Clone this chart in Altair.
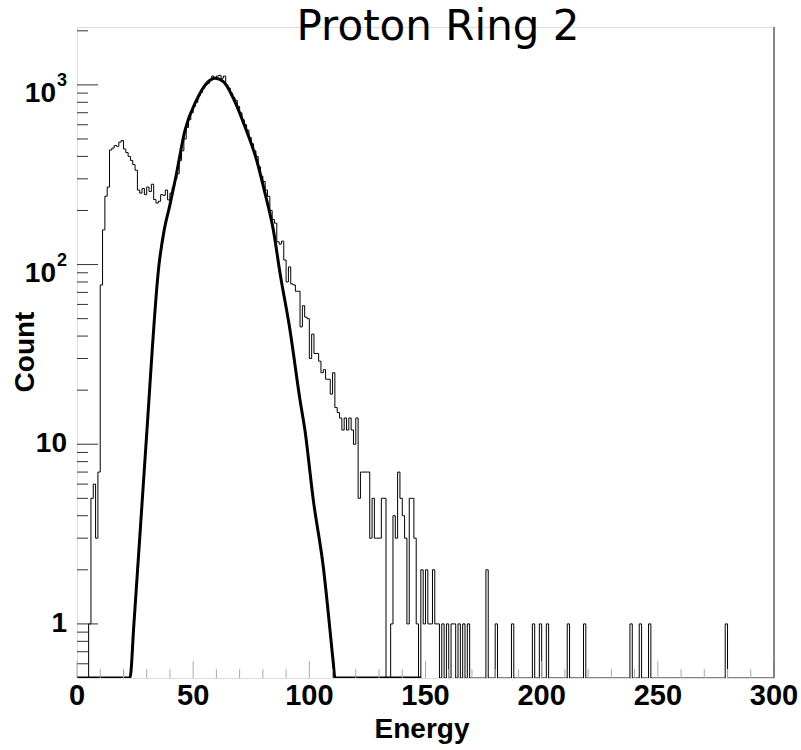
import altair as alt
import pandas as pd

# ---------------- data ----------------
# histogram counts for bins [E, E+1), E = 0 .. 155
hist_counts = [
    0, 0, 0, 0, 0, 1, 5, 6, 3, 7,                      # 0-9
    77, 156, 240, 270, 434, 445, 460, 455, 480, 490,   # 10-19
    440, 420, 400, 380, 360, 335, 260, 250, 265, 245,  # 20-29
    270, 255, 280, 230, 220, 225, 245, 243, 260, 229,  # 30-39
    250, 270, 300, 320, 380, 430, 500, 580, 640, 700,  # 40-49
    760, 800, 870, 910, 960, 1000, 1020, 1060, 1120, 1100,  # 50-59
    1120, 1130, 1090, 1120, 1000, 960, 900, 850, 820, 760,  # 60-69
    700, 640, 600, 560, 510, 470, 430, 400, 350, 310,  # 70-79
    290, 260, 240, 200, 178, 170, 134, 130, 135, 106,  # 80-89
    80, 97, 78, 77, 71, 71, 45, 59, 51, 50,            # 90-99
    30, 41, 32, 32, 29, 25, 26, 23, 23, 19,            # 100-109
    25, 16, 15, 14, 12, 14, 12, 14, 12, 10,            # 110-119
    14, 5, 7, 7, 7, 7, 3, 5, 3, 3,                     # 120-129
    3, 5, 5, 0, 0, 1, 4, 3, 7, 5,                      # 130-139
    4, 3, 1, 5, 5, 3, 1, 0, 2, 1,                      # 140-149
    2, 1, 1, 2, 1, 1,                                  # 150-155
]
# isolated entries at higher energy
sparse_energy = [157, 159, 161, 162, 164, 166, 168, 176, 180, 187,
                 196, 199, 202, 211, 218, 238, 242, 246, 279]
sparse_counts = [1, 1, 1, 1, 1, 1, 1, 2, 1, 1,
                 1, 1, 1, 1, 1, 1, 1, 1, 1]

# fitted curve (values at the floor are drawn on the frame)
fit_energy = [0, 22.8, 24.5, 29.7, 35.3, 37.5, 40.0, 42.6, 46.5, 51.5, 55.8,
              59.4, 63, 67.3, 72.3, 77.3, 80.9, 84.5, 87.4, 91.7, 96, 98.1,
              101.7, 106, 110.3, 111, 148]
fit_count = [0.5, 0.5, 1.0, 10, 100, 155, 215, 310, 561, 824, 1020,
             1088, 1042, 842, 585, 382, 250, 156, 89.5, 43, 17.6, 12.0,
             4.9, 2.08, 0.61, 0.5, 0.5]

x_major = [0, 50, 100, 150, 200, 250, 300]
x_labels = ["0", "50", "100", "150", "200", "250", "300"]
x_minor = [10, 20, 30, 40, 60, 70, 80, 90, 110, 120, 130, 140, 160, 170, 180,
           190, 210, 220, 230, 240, 260, 270, 280, 290]
y_major = [1, 10, 100, 1000]
y_minor = [0.6, 0.7, 0.8, 0.9, 2, 3, 4, 5, 6, 7, 8, 9, 20, 30, 40, 50, 60, 70,
           80, 90, 200, 300, 400, 500, 600, 700, 800, 900, 2000]
y_plain_vals = [1, 10]
y_plain_text = ["1", "10"]
y_sup_vals = [100, 1000]
y_sup_text = ["2", "3"]

X_MIN, X_MAX = 0, 300
Y_MIN, Y_MAX = 0.5, 2100

# ---------------- tables ----------------
counts = [0] * 300
for i, c in enumerate(hist_counts):
    counts[i] = c
for e, c in zip(sparse_energy, sparse_counts):
    counts[e] = c
hist_df = pd.DataFrame({"energy": list(range(300)) + [300], "count": counts + [0]})
fit_df = pd.DataFrame({"energy": fit_energy, "count": fit_count})

W, H = 697, 651
xs = alt.Scale(domain=[X_MIN, X_MAX], nice=False, zero=False)
ys = alt.Scale(type="log", domain=[Y_MIN, Y_MAX], nice=False)

BOLD = "Liberation Sans"

hist = alt.Chart(hist_df).transform_calculate(
    plot_count=f"max(datum.count, {Y_MIN})"
).mark_line(interpolate="step-after", color="black", strokeWidth=1, clip=True).encode(
    x=alt.X("energy:Q", scale=xs,
            axis=alt.Axis(labels=False, title=None, ticks=False, grid=False,
                          domainColor="#9a9a9a", domainWidth=1.5)),
    y=alt.Y("plot_count:Q", scale=ys,
            axis=alt.Axis(labels=False, ticks=False, title=None, grid=False,
                          domainColor="#9a9a9a", domainWidth=1.5)),
)

fit = alt.Chart(fit_df).mark_line(color="black", strokeWidth=3, interpolate="monotone",
                                  clip=True).encode(
    x=alt.X("energy:Q", scale=xs, axis=None),
    y=alt.Y("count:Q", scale=ys, axis=None),
)

ymaj = alt.Chart(pd.DataFrame({"v": y_major})).mark_rule(color="#333", strokeWidth=1).encode(
    y=alt.Y("v:Q", scale=ys, axis=None), x=alt.value(0), x2=alt.value(21))
ymin_ = alt.Chart(pd.DataFrame({"v": y_minor})).mark_rule(color="#333", strokeWidth=1).encode(
    y=alt.Y("v:Q", scale=ys, axis=None), x=alt.value(0), x2=alt.value(11))
xmaj = alt.Chart(pd.DataFrame({"v": x_major})).mark_rule(color="#aaa", strokeWidth=1).encode(
    x=alt.X("v:Q", scale=xs, axis=None), y=alt.value(H), y2=alt.value(H - 17))
xmin_ = alt.Chart(pd.DataFrame({"v": x_minor})).mark_rule(color="#aaa", strokeWidth=1).encode(
    x=alt.X("v:Q", scale=xs, axis=None), y=alt.value(H), y2=alt.value(H - 9))

right_frame = alt.Chart(pd.DataFrame({"v": [X_MAX]})).mark_rule(color="#666", strokeWidth=1.5).encode(
    x=alt.X("v:Q", scale=xs, axis=None), y=alt.value(0), y2=alt.value(H))

xlab = alt.Chart(pd.DataFrame({"v": x_major, "t": x_labels})).mark_text(
    font=BOLD, fontSize=29, fontWeight="bold", align="center", baseline="alphabetic",
    color="black"
).encode(x=alt.X("v:Q", scale=xs, axis=None), y=alt.value(H + 27), text="t:N")

ylab_plain = alt.Chart(pd.DataFrame({"v": y_plain_vals, "t": y_plain_text})).mark_text(
    font=BOLD, fontSize=28, fontWeight="bold", align="right", baseline="middle", color="black"
).encode(y=alt.Y("v:Q", scale=ys, axis=None), x=alt.value(-10), text="t:N")

ylab_base = alt.Chart(pd.DataFrame({"v": y_sup_vals, "t": ["10", "10"]})).mark_text(
    font=BOLD, fontSize=28, fontWeight="bold", align="right", baseline="middle", color="black", dy=9
).encode(y=alt.Y("v:Q", scale=ys, axis=None), x=alt.value(-21), text="t:N")

ylab_sup = alt.Chart(pd.DataFrame({"v": y_sup_vals, "t": y_sup_text})).mark_text(
    font=BOLD, fontSize=18, fontWeight="bold", align="left", baseline="middle", color="black", dy=-4
).encode(y=alt.Y("v:Q", scale=ys, axis=None), x=alt.value(-20), text="t:N")

title = alt.Chart(pd.DataFrame({"t": ["Proton Ring 2"]})).mark_text(
    font="DejaVu Sans", fontSize=42, align="center", baseline="alphabetic", color="black"
).encode(x=alt.value(361), y=alt.value(13), text="t:N")

xtitle = alt.Chart(pd.DataFrame({"t": ["Energy"]})).mark_text(
    font=BOLD, fontSize=28, fontWeight="bold", align="center", baseline="alphabetic", color="black"
).encode(x=alt.value(345), y=alt.value(711), text="t:N")

ytitle = alt.Chart(pd.DataFrame({"t": ["Count"]})).mark_text(
    font=BOLD, fontSize=28, fontWeight="bold", align="center", baseline="middle", angle=270,
    color="black"
).encode(x=alt.value(-51), y=alt.value(325), text="t:N")

chart = alt.layer(
    hist, fit, ymaj, ymin_, xmaj, xmin_, right_frame, xlab,
    ylab_plain, ylab_base, ylab_sup, title, xtitle, ytitle
).properties(
    width=W, height=H,
    padding={"left": 77, "top": 27, "right": 27, "bottom": 72},
    autosize="none",
).configure_view(stroke=None).configure(background="white")

chart.save("out.html", embed_options={"renderer": "svg", "actions": False})
